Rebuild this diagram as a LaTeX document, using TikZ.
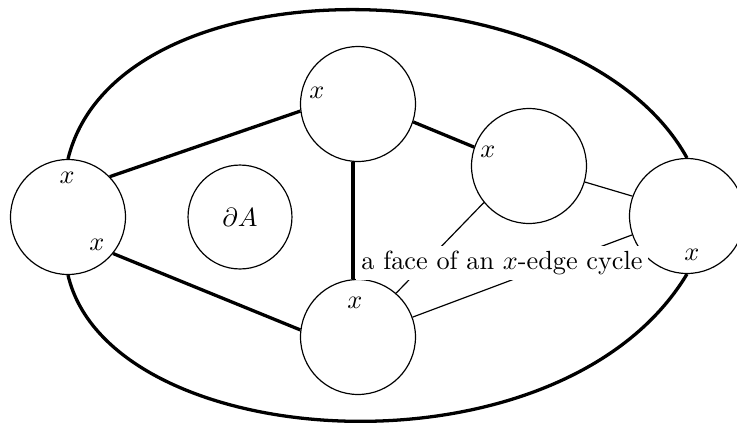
\documentclass[tikz,border=0pt]{standalone}
\begin{document}
\begin{tikzpicture}[x=0.381pt,y=-0.381pt,
  bigc/.style={circle,draw,line width=0.45pt,inner sep=0pt,minimum size=43.8pt},
  smallc/.style={circle,draw,line width=0.45pt,inner sep=0pt,minimum size=39.6pt},
  thickedge/.style={line width=1.25pt},
  thinedge/.style={line width=0.45pt},
  lbl/.style={inner sep=0pt}]
\useasboundingbox (0,0) rectangle (737,426);
\node[bigc] (L) at (68,217) {};
\node[smallc] (D) at (240,217) {$\partial A$};
\node[bigc] (T) at (358,104) {};
\node[bigc] (R) at (529,166) {};
\node[bigc] (F) at (687,216) {};
\node[bigc] (B) at (358,337) {};
% x labels
\node[lbl] (xL1) at (67,178) {$x$};
\node[lbl] (xL2) at (97,245) {$x$};
\node[lbl] (xT) at (317,93) {$x$};
\node[lbl] (xR) at (488,152) {$x$};
\node[lbl] (xF) at (692,255) {$x$};
\node[lbl] (xB) at (355,303) {$x$};
% outer curves
\draw[thickedge] (L.north) .. controls (118,-44) and (580,-36) .. (F.north);
\draw[thickedge] (L.south) .. controls (110,455) and (560,485) .. (F.south);
% edges
\draw[thickedge] (L.44) -- (T.187);
\draw[thickedge] (L.-39) -- (B.173);
\draw[thickedge] (T.265) -- (B.95);
\draw[thickedge] (T.-18) -- (R.161);
\draw[thinedge] (R.-16) -- (F.160);
\draw[thinedge] (B.20) -- (F.199);
\draw[thinedge] (R.219) -- (B.49);
\node[fill=white,inner sep=2pt] (face) at (502,263) {a face of an $x$-edge cycle};
\end{tikzpicture}
\end{document}
